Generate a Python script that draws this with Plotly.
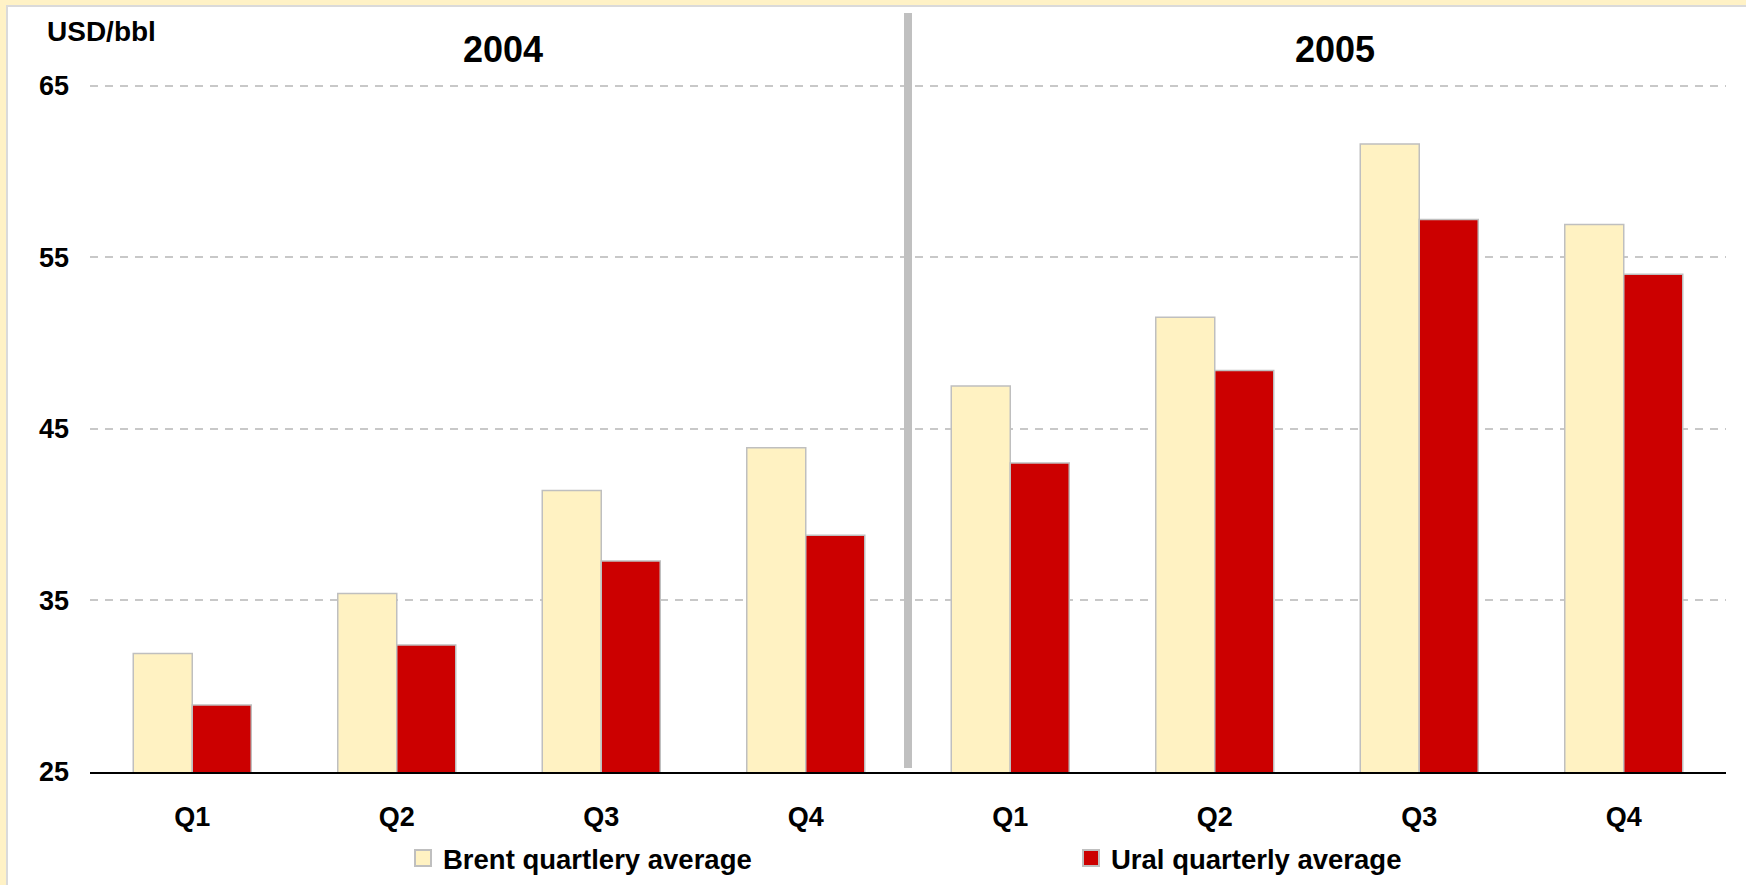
import plotly.graph_objects as go

years = ["2004", "2004", "2004", "2004", "2005", "2005", "2005", "2005"]
quarters = ["Q1", "Q2", "Q3", "Q4", "Q1", "Q2", "Q3", "Q4"]
brent = [31.9, 35.4, 41.4, 43.9, 47.5, 51.5, 61.6, 56.9]
ural = [28.9, 32.4, 37.3, 38.8, 43.0, 48.4, 57.2, 54.0]
year_titles = ["2004", "2005"]
series_names = ["Brent quartlery average", "Ural quarterly average"]
y_ticks = [25, 35, 45, 55, 65]

cats = [f"{y} {q}" for y, q in zip(years, quarters)]

W, H = 1746, 885
ML, MR, MT, MB = 90, 20, 77, 113
PW = W - ML - MR
PH = H - MT - MB


def px2x(px):
    return (px - ML) / PW


def px2y(py):
    return (H - MB - py) / PH


FONT = "Liberation Sans, Arial, sans-serif"
BRENT_C = "#FFF2C2"
URAL_C = "#CC0000"
EDGE = "#BFBFBF"

fig = go.Figure()
fig.add_trace(go.Bar(
    x=cats, y=brent, name=series_names[0], showlegend=False,
    marker=dict(color=BRENT_C, line=dict(color=EDGE, width=1.5)),
))
fig.add_trace(go.Bar(
    x=cats, y=ural, name=series_names[1], showlegend=False,
    marker=dict(color=URAL_C, line=dict(color=EDGE, width=1.5)),
))
# legend entries (square swatches)
for nm, col, lw in zip(series_names, [BRENT_C, URAL_C], [623, 320]):
    fig.add_trace(go.Scatter(
        x=[None], y=[None], mode="markers", name=nm, legendwidth=lw,
        marker=dict(symbol="square", size=16, color=col, line=dict(color=EDGE, width=2)),
    ))

shapes = [
    dict(type="rect", xref="paper", yref="paper", x0=px2x(0), x1=px2x(W), y0=px2y(5), y1=px2y(0),
         fillcolor="#FFF2C6", line_width=0, layer="below"),
    dict(type="rect", xref="paper", yref="paper", x0=px2x(0), x1=px2x(6), y0=px2y(H), y1=px2y(0),
         fillcolor="#FFF2C6", line_width=0, layer="below"),
    dict(type="rect", xref="paper", yref="paper", x0=px2x(6), x1=px2x(W), y0=px2y(7), y1=px2y(5),
         fillcolor="#DADADA", line_width=0, layer="below"),
    dict(type="rect", xref="paper", yref="paper", x0=px2x(6), x1=px2x(8), y0=px2y(H), y1=px2y(5),
         fillcolor="#DADADA", line_width=0, layer="below"),
    dict(type="line", xref="x", yref="paper", x0=3.5, x1=3.5, y0=px2y(768), y1=px2y(13),
         line=dict(color="#C0C0C0", width=8)),
]

annotations = [
    dict(text="<b>USD/bbl</b>", xref="paper", yref="paper", x=px2x(101), y=px2y(31),
         showarrow=False, xanchor="center", yanchor="middle", font=dict(size=28, color="black", family=FONT)),
    dict(text=f"<b>{year_titles[0]}</b>", xref="paper", yref="paper", x=px2x(503), y=px2y(49),
         showarrow=False, xanchor="center", yanchor="middle", font=dict(size=36, color="black", family=FONT)),
    dict(text=f"<b>{year_titles[1]}</b>", xref="paper", yref="paper", x=px2x(1335), y=px2y(49),
         showarrow=False, xanchor="center", yanchor="middle", font=dict(size=36, color="black", family=FONT)),
]

fig.update_layout(
    width=W, height=H,
    margin=dict(l=ML, r=MR, t=MT, b=MB, autoexpand=False),
    paper_bgcolor="white", plot_bgcolor="white",
    barmode="group", bargap=0.423, bargroupgap=0,
    font=dict(family=FONT, size=27, color="black"),
    shapes=shapes, annotations=annotations,
    legend=dict(orientation="h", x=px2x(403), xanchor="left", y=px2y(858), yanchor="middle",
                itemsizing="trace", font=dict(size=27.5, family=FONT, weight="bold"),
                bgcolor="rgba(0,0,0,0)", traceorder="normal"),
    xaxis=dict(type="category", tickvals=cats, ticktext=[f"<b>{q}</b>" for q in quarters],
               showline=True, linecolor="black", linewidth=2, showgrid=False, ticks="",
               ticklabelstandoff=20, tickfont=dict(size=27), automargin=False),
    yaxis=dict(range=[25, 65.5], tickvals=y_ticks, ticktext=[f"<b>{v}</b>" for v in y_ticks],
               showgrid=True, gridcolor="#C8C8C8", gridwidth=1.5, griddash="8px,7px",
               zeroline=False, showline=False, ticks="", ticklabelstandoff=20,
               tickfont=dict(size=27), automargin=False),
)

fig.write_html(
    "out.html",
    config={"displayModeBar": False},
    post_script="document.body.style.margin='0';document.body.style.overflow='hidden';",
)
